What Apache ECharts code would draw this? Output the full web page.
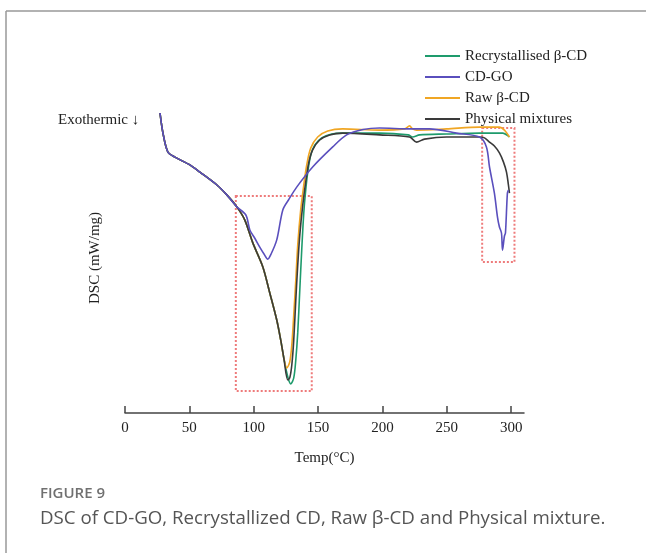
<!DOCTYPE html>
<html>
<head>
<meta charset="utf-8">
<script src="https://cdn.jsdelivr.net/npm/echarts@6/dist/echarts.min.js"></script>
<style>
  html, body { margin: 0; padding: 0; background: #fff; }
  #dsc { width: 646px; height: 553px; }
</style>
</head>
<body>
<div id="dsc"></div>
<script>
// [temperature in °C, relative DSC signal]
const commonStart = [[27.2, 10], [29.5, 9.33], [33.3, 8.7], [38.8, 8.53], [50.4, 8.27],
  [58.2, 8.03], [71.4, 7.6], [79.1, 7.27], [86.9, 6.87]];

const recrystallised = [[93.1, 6.43], [99.3, 5.67], [107.1, 4.87], [112.5, 4.0], [117.9, 3.1],
  [121.0, 2.43], [123.4, 1.83], [126.5, 1.2], [128.8, 0.97], [131.1, 1.17], [132.7, 1.77],
  [134.2, 2.67], [135.8, 4.1], [137.3, 5.43], [138.9, 6.67], [140.4, 7.43], [142.0, 8.03],
  [144.3, 8.6], [147.4, 8.93], [152.8, 9.17], [160.6, 9.3], [169.1, 9.33], [197.8, 9.33],
  [220.0, 9.27], [223.4, 9.2], [228.9, 9.27], [249.8, 9.3], [275.4, 9.33], [293.3, 9.33], [298.7, 9.2]];

const cdGo = [[93.9, 6.6], [97.0, 6.1], [100.5, 5.85], [104.7, 5.53], [108.0, 5.3], [110.9, 5.13],
  [113.5, 5.3], [117.9, 5.77], [122.6, 6.77], [127.0, 7.1], [133.4, 7.53], [145.8, 8.2],
  [161.4, 8.87], [172.2, 9.27], [185.0, 9.45], [197.8, 9.5], [221.1, 9.47], [236.6, 9.47],
  [257.6, 9.33], [275.4, 9.2], [280.8, 8.87], [283.2, 8.2], [287.0, 7.33], [289.4, 6.53],
  [290.9, 6.2], [292.5, 6.0], [293.3, 5.43], [294.8, 5.9], [295.6, 6.0], [297.1, 7.33], [297.9, 7.43]];

const rawCd = [[93.1, 6.43], [99.3, 5.67], [107.1, 4.87], [112.5, 4.0], [117.9, 3.1], [121.0, 2.43],
  [123.4, 1.83], [125.7, 1.5], [128.0, 1.7], [129.6, 2.27], [131.1, 3.27], [132.7, 4.43],
  [134.2, 5.6], [136.5, 6.77], [138.9, 7.6], [141.2, 8.27], [144.3, 8.83], [149.7, 9.2],
  [157.5, 9.4], [169.1, 9.47], [197.8, 9.43], [217.2, 9.47], [221.1, 9.57], [223.4, 9.47],
  [226.5, 9.43], [249.8, 9.47], [275.4, 9.53], [290.9, 9.53], [294.8, 9.43], [298.7, 9.2]];

const physical = [[93.1, 6.43], [99.3, 5.67], [107.1, 4.87], [112.5, 4.0], [117.9, 3.1], [121.0, 2.43],
  [123.4, 1.83], [126.5, 1.1], [128.0, 1.17], [129.6, 1.6], [131.1, 2.43], [132.7, 3.77],
  [134.2, 4.93], [135.8, 5.93], [138.1, 6.93], [140.4, 7.7], [142.7, 8.33], [145.8, 8.77],
  [151.3, 9.1], [159.0, 9.27], [169.1, 9.33], [197.8, 9.27], [221.1, 9.2], [226.5, 9.03],
  [232.7, 9.13], [249.8, 9.2], [275.4, 9.2], [279.3, 9.17], [283.2, 9.03], [287.0, 8.9],
  [290.9, 8.67], [294.0, 8.37], [296.4, 8.03], [297.9, 7.6], [298.7, 7.33]];

const seriesNames = ['Recrystallised β-CD', 'CD-GO', 'Raw β-CD', 'Physical mixtures'];
const seriesColors = ['#1e9b6c', '#5a4fbd', '#f0a624', '#3a3a3a'];
const xTicks = [0, 50, 100, 150, 200, 250, 300];

// dotted highlight boxes [[tMin, sMax], [tMax, sMin]]
const highlightBoxes = [
  [[86.1, 7.23], [145.1, 0.73]],
  [[277.5, 9.5], [302.6, 5.03]]
];

const serif = 'Liberation Serif';
const chart = echarts.init(document.getElementById('dsc'));

const dataSets = [recrystallised, cdGo, rawCd, physical];
const series = dataSets.map((d, i) => ({
  name: seriesNames[i],
  type: 'line',
  symbol: 'none',
  smooth: 0.3,
  data: commonStart.concat(d),
  lineStyle: { width: 1.6, color: seriesColors[i] },
  itemStyle: { color: seriesColors[i] },
  z: i === 1 ? 3 : 2
}));
series[0].markArea = {
  silent: true,
  itemStyle: { color: 'rgba(0,0,0,0)', borderColor: '#ee7b7b', borderWidth: 2, borderType: 'dotted' },
  data: highlightBoxes.map(b => [{ coord: b[0] }, { coord: b[1] }])
};

chart.setOption({
  animation: false,
  backgroundColor: '#fff',
  grid: { left: 125, right: 122, top: 113, bottom: 140 },
  legend: {
    orient: 'vertical',
    left: 420,
    top: 43,
    icon: 'rect',
    itemWidth: 35,
    itemHeight: 2,
    itemGap: 5,
    data: seriesNames,
    textStyle: { fontFamily: serif, fontSize: 15, color: '#222', lineHeight: 16 }
  },
  xAxis: {
    type: 'value',
    min: 0,
    max: 310,
    name: 'Temp(°C)',
    nameLocation: 'middle',
    nameGap: 38,
    nameTextStyle: { fontFamily: serif, fontSize: 15, color: '#222' },
    axisLine: { lineStyle: { color: '#444', width: 1.5 } },
    axisTick: { show: true, inside: true, length: 7, customValues: xTicks, lineStyle: { color: '#444', width: 1.5 } },
    axisLabel: { customValues: xTicks, margin: 8, fontFamily: serif, fontSize: 15, color: '#222' },
    splitLine: { show: false }
  },
  yAxis: {
    type: 'value',
    min: 0,
    max: 10,
    show: false
  },
  graphic: [
    { type: 'line', shape: { x1: 6, y1: 11, x2: 646, y2: 11 }, style: { stroke: '#999', lineWidth: 1.5 } },
    { type: 'line', shape: { x1: 6, y1: 11, x2: 6, y2: 553 }, style: { stroke: '#999', lineWidth: 1.5 } },
    { type: 'text', left: 58, top: 113, style: { text: 'Exothermic ↓', font: '15px "Liberation Serif"', fill: '#222' } },
    { type: 'text', x: 95, y: 258, rotation: Math.PI / 2,
      style: { text: 'DSC (mW/mg)', font: '15px "Liberation Serif"', fill: '#222', align: 'center', verticalAlign: 'middle' } },
    { type: 'text', left: 40, top: 486, style: { text: 'FIGURE 9', font: '600 15px "Open Sans"', fill: '#707070' } },
    { type: 'text', left: 40, top: 509, style: { text: 'DSC of CD-GO, Recrystallized CD, Raw β-CD and Physical mixture.', font: '18.7px "Open Sans"', fill: '#555' } }
  ],
  series: series
});
</script>
</body>
</html>
